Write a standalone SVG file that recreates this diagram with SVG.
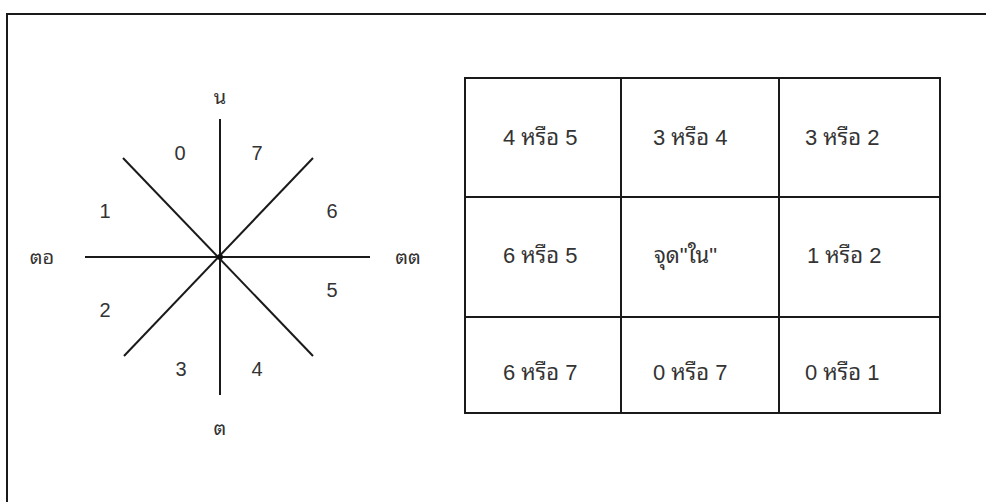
<svg xmlns="http://www.w3.org/2000/svg" width="986" height="502" viewBox="0 0 986 502">
<style>
.ln{stroke:#1a1a1a;stroke-width:2;fill:none}
.t{font-family:"Liberation Sans","Noto Sans Thai Looped","Noto Sans Thai","Noto Sans",sans-serif;font-size:22px;fill:#333}
.d{font-family:"Liberation Sans",sans-serif;font-size:20px;fill:#333;text-anchor:middle}
.th{font-family:"Noto Sans Thai Looped","Noto Sans Thai","Liberation Sans","Noto Sans",sans-serif;font-size:20px;fill:#333;text-anchor:middle}
</style>
<rect width="986" height="502" fill="#fff"/>
<g id="frame">
<path class="ln" d="M7,502 V14 H986"/>
</g>
<g id="compass">
<line class="ln" x1="220" y1="119" x2="220" y2="395"/>
<line class="ln" x1="85" y1="257" x2="370" y2="257"/>
<line class="ln" x1="123" y1="158" x2="313" y2="356"/>
<line class="ln" x1="313" y1="158" x2="124" y2="356"/>
<circle cx="220" cy="257" r="3" fill="#111"/>
<text class="th" x="220" y="104">น</text>
<text class="th" x="220" y="435">ต</text>
<text class="th" x="42" y="264">ตอ</text>
<text class="th" x="408" y="264">ตต</text>
<text class="d" x="180" y="160">0</text>
<text class="d" x="257" y="160">7</text>
<text class="d" x="105" y="218">1</text>
<text class="d" x="332" y="218">6</text>
<text class="d" x="105" y="317">2</text>
<text class="d" x="332" y="297">5</text>
<text class="d" x="181" y="376">3</text>
<text class="d" x="257" y="376">4</text>
</g>
<g id="table">
<rect class="ln" x="465" y="78" width="475" height="335"/>
<line class="ln" x1="465" y1="197" x2="940" y2="197"/>
<line class="ln" x1="465" y1="317" x2="940" y2="317"/>
<line class="ln" x1="621" y1="78" x2="621" y2="413"/>
<line class="ln" x1="779" y1="78" x2="779" y2="413"/>
<text class="t" x="503" y="145">4 หรือ 5</text>
<text class="t" x="653" y="145">3 หรือ 4</text>
<text class="t" x="805" y="145">3 หรือ 2</text>
<text class="t" x="503" y="263">6 หรือ 5</text>
<text class="t" x="654" y="263">จุด"ใน"</text>
<text class="t" x="807" y="263">1 หรือ 2</text>
<text class="t" x="503" y="380">6 หรือ 7</text>
<text class="t" x="653" y="380">0 หรือ 7</text>
<text class="t" x="805" y="380">0 หรือ 1</text>
</g>
</svg>
